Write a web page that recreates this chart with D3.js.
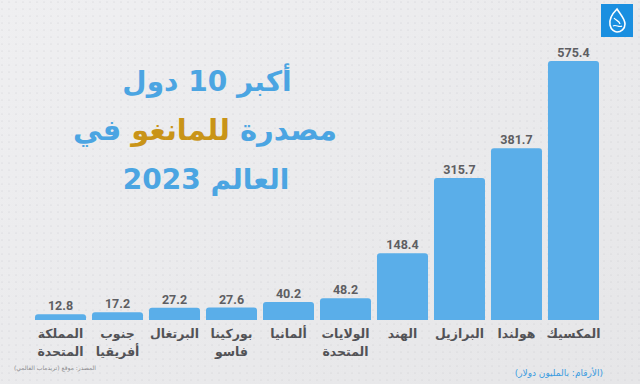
<!DOCTYPE html>
<html><head><meta charset="utf-8">
<script src="https://cdn.jsdelivr.net/npm/d3@7"></script>
<style>html,body{margin:0;padding:0;background:#ebebed;}svg{display:block;}</style>
</head><body><svg id="c" width="640" height="384"></svg>
<script>
// Data (ranked, largest first)
const countries = ["المكسيك","هولندا","البرازيل","الهند","الولايات\nالمتحدة","ألمانيا","بوركينا\nفاسو","البرتغال","جنوب\nأفريقيا","المملكة\nالمتحدة"];
const values = [575.4, 381.7, 315.7, 148.4, 48.2, 40.2, 27.6, 27.2, 17.2, 12.8];
const titleLines = ["أكبر 10 دول", "العالم 2023"];
const titleLine2 = ["مصدرة ", "للمانغو", " في"];
const unitNote = "(الأرقام: بالمليون دولار)";
const sourceNote = "المصدر: موقع (تريدماب العالمي)";

const svg = d3.select("#c");
const W = 640, H = 384;
const defs = svg.append("defs");
const grad = defs.append("linearGradient").attr("id","bg").attr("x1",0).attr("y1",0).attr("x2",1).attr("y2",1);
grad.append("stop").attr("offset","0%").attr("stop-color","#efeff1");
grad.append("stop").attr("offset","100%").attr("stop-color","#e6e6e8");
const pat = defs.append("pattern").attr("id","dots").attr("width",7).attr("height",7).attr("patternUnits","userSpaceOnUse");
pat.append("circle").attr("cx",2).attr("cy",2).attr("r",0.6).attr("fill","#b9b9bd").attr("opacity",0.6);
svg.append("rect").attr("width",W).attr("height",H).attr("fill","url(#bg)");
svg.append("rect").attr("width",W).attr("height",H).attr("fill","url(#dots)");

const order = countries.slice().reverse();
const x = d3.scaleBand().domain(order).range([35, 599]).paddingInner(0.105).paddingOuter(0);
const y = d3.scaleLinear().domain([0, 575.4]).range([320, 61]);

const data = countries.map((c,i)=>({c, v: values[i]}));
const g = svg.append("g");
g.selectAll("path.bar").data(data).join("path").attr("class","bar")
  .attr("fill","#5aaee9")
  .attr("d", d=>{
    const x0 = x(d.c), w = x.bandwidth(), y0 = y(d.v), yb = y(0);
    const r = Math.min(3, (yb-y0));
    return `M${x0},${yb}L${x0},${y0+r}Q${x0},${y0} ${x0+r},${y0}L${x0+w-r},${y0}Q${x0+w},${y0} ${x0+w},${y0+r}L${x0+w},${yb}Z`;
  });

g.selectAll("text.val").data(data).join("text").attr("class","val")
  .attr("x", d=>x(d.c)+x.bandwidth()/2)
  .attr("y", d=>Math.min(y(d.v), y(0)-6)-4)
  .attr("text-anchor","middle")
  .attr("font-family","Roboto, 'DejaVu Sans', sans-serif")
  .attr("font-weight","bold").attr("font-size",12.5).attr("fill","#5e5e62")
  .text(d=>d.v.toFixed(1));

const labs = g.selectAll("text.cat").data(data).join("text").attr("class","cat")
  .attr("x", d=>x(d.c)+x.bandwidth()/2)
  .attr("y", 338)
  .attr("text-anchor","middle").attr("direction","rtl")
  .attr("font-family","'DejaVu Sans', sans-serif").attr("font-weight","bold")
  .attr("font-size",12.5).attr("fill","#525256");
labs.each(function(d){
  const t = d3.select(this);
  d.c.split("\n").forEach((ln,i)=>{
    t.append("tspan").attr("x", x(d.c)+x.bandwidth()/2).attr("dy", i===0?0:18).text(ln);
  });
});

// Title
const tf = "'DejaVu Sans', sans-serif";
svg.append("text").attr("x",207).attr("y",91).attr("text-anchor","middle").attr("direction","rtl")
  .attr("font-family",tf).attr("font-weight","bold").attr("font-size",28).attr("fill","#4ba5e2").text(titleLines[0]);
const t2 = svg.append("text").attr("x",205).attr("y",140).attr("text-anchor","middle").attr("direction","rtl")
  .attr("font-family",tf).attr("font-weight","bold").attr("font-size",29).attr("fill","#4ba5e2");
titleLine2.forEach((s,i)=>t2.append("tspan").attr("fill", i===1?"#c99418":"#4ba5e2").text(s));
svg.append("text").attr("x",206).attr("y",189).attr("text-anchor","middle").attr("direction","rtl")
  .attr("font-family",tf).attr("font-weight","bold").attr("font-size",28).attr("fill","#4ba5e2").text(titleLines[1]);

// Notes
svg.append("text").attr("x",603).attr("y",376).attr("text-anchor","start").attr("direction","rtl")
  .attr("font-family",tf).attr("font-size",9).attr("fill","#3a9be0").text(unitNote);
svg.append("text").attr("x",96).attr("y",370).attr("text-anchor","start").attr("direction","rtl")
  .attr("font-family",tf).attr("font-size",6).attr("fill","#8a8a8e").text(sourceNote);

// Logo
const lg = svg.append("g").attr("transform","translate(601,4)");
lg.append("rect").attr("width",32).attr("height",33).attr("fill","#1a8fe0");
lg.append("path").attr("d","M16,5 C10,11 8,16 9,21 C10,26 14,28 16,28 C20,28 24,25 24,20 C24,15 20,11 16,5 Z")
  .attr("fill","none").attr("stroke","#fff").attr("stroke-width",1.6);
lg.append("path").attr("d","M13,14 C15,17 18,16 19,20 M12,22 C15,20 18,24 21,22")
  .attr("fill","none").attr("stroke","#fff").attr("stroke-width",1.2);
</script></body></html>
